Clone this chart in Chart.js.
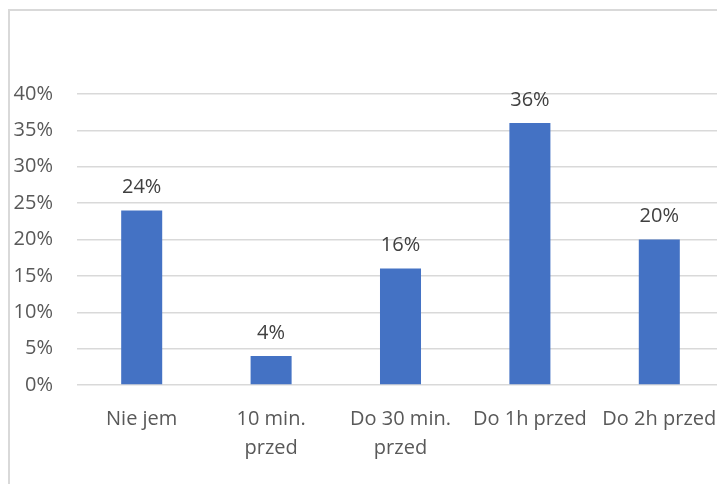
<!DOCTYPE html>
<html>
<head>
<meta charset="utf-8">
<script src="https://cdn.jsdelivr.net/npm/chart.js@4"></script>
<style>
  html, body { margin: 0; padding: 0; background: #fff; overflow: hidden; }
  #wrap { position: absolute; left: 0; top: 0; width: 740px; height: 484px; }
  #frame { position: absolute; left: 8px; top: 9px; width: 760px; height: 520px;
           border-left: 2px solid #d9d9d9; border-top: 2px solid #d9d9d9; }
</style>
</head>
<body>
<div id="frame"></div>
<div id="wrap"><canvas id="chart" width="740" height="484"></canvas></div>
<script>
// data
const categories = ["Nie jem", ["10 min.", "przed"], ["Do 30 min.", "przed"], "Do 1h przed", "Do 2h przed"];
const values = [24, 4, 16, 36, 20];
const yMax = 40;
const yStep = 5;

const FONT = "'Open Sans', Lato, sans-serif";
const FSIZE = 20;

// value labels over the bars
const barLabels = {
  id: "barLabels",
  afterDatasetsDraw(chart) {
    const ctx = chart.ctx;
    const meta = chart.getDatasetMeta(0);
    ctx.save();
    ctx.font = FSIZE + "px " + FONT;
    ctx.fillStyle = "#404040";
    ctx.textAlign = "center";
    ctx.textBaseline = "middle";
    meta.data.forEach((bar, i) => {
      ctx.fillText(values[i] + "%", bar.x, bar.y - 23);
    });
    ctx.restore();
  }
};

new Chart(document.getElementById("chart").getContext("2d"), {
  type: "bar",
  data: {
    labels: categories,
    datasets: [{
      data: values,
      backgroundColor: "#4472c4",
      barPercentage: 0.317,
      categoryPercentage: 1
    }]
  },
  options: {
    responsive: false,
    animation: false,
    layout: { padding: { top: 94, right: 16, left: 0, bottom: 0 } },
    plugins: { legend: { display: false }, tooltip: { enabled: false } },
    scales: {
      x: {
        grid: { display: false },
        border: { display: false },
        ticks: {
          color: "#595959",
          font: { family: FONT, size: FSIZE, lineHeight: 1.45 },
          padding: 12,
          maxRotation: 0,
          autoSkip: false
        },
        afterFit(axis) { axis.height = 99; }
      },
      y: {
        min: 0,
        max: yMax,
        grid: { color: "#d9d9d9", lineWidth: 1.5, drawTicks: false },
        border: { display: false },
        ticks: {
          stepSize: yStep,
          color: "#595959",
          font: { family: FONT, size: FSIZE },
          padding: 24,
          callback: v => v + "%"
        },
        afterFit(axis) { axis.width = 77; }
      }
    }
  },
  plugins: [barLabels]
});
</script>
</body>
</html>
